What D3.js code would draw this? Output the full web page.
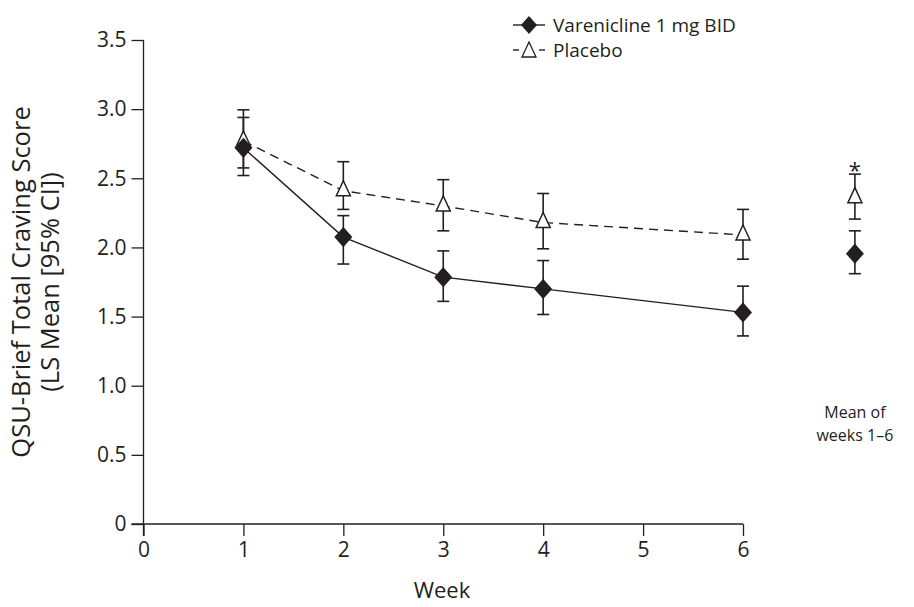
<!DOCTYPE html>
<html>
<head>
<meta charset="utf-8">
<script src="https://cdn.jsdelivr.net/npm/d3@7"></script>
<style>
  body { margin: 0; background: #fff; }
  svg text { font-family: "Open Sans", Lato, sans-serif; fill: #231f20; }
</style>
</head>
<body>
<svg id="chart" width="914" height="607"></svg>
<script>
var weeks = [1, 2, 3, 4, 5, 6];
var yTicks = [0, 0.5, 1.0, 1.5, 2.0, 2.5, 3.0, 3.5];

// weekly LS means and 95% CI (week 5 not reported)
var vareWeeks = [1, 2, 3, 4, 6];
var vareMean  = [2.72, 2.075, 1.785, 1.70, 1.53];
var vareLow   = [2.52, 1.88, 1.61, 1.515, 1.36];
var vareHigh  = [2.94, 2.23, 1.975, 1.905, 1.72];

var placWeeks = [1, 2, 3, 4, 6];
var placMean  = [2.77, 2.41, 2.30, 2.18, 2.09];
var placLow   = [2.575, 2.275, 2.12, 1.99, 1.915];
var placHigh  = [2.995, 2.62, 2.49, 2.39, 2.275];

// mean of weeks 1-6
var overall = { vare: [1.955, 1.81, 2.12], plac: [2.36, 2.205, 2.53] };
var overallPos = 7.12;

var svg = d3.select("#chart");
var x = d3.scaleLinear().domain([0, 6]).range([143.5, 743]);
var y = d3.scaleLinear().domain([0, 3.5]).range([524, 40]);

var ink = "#231f20";

// axes
var yAxis = d3.axisLeft(y).tickValues(yTicks).tickSize(12).tickPadding(5)
  .tickFormat(function(d) { return d === 0 ? "0" : d3.format(".1f")(d); });
var gy = svg.append("g").attr("transform", "translate(" + x(0) + ",0)").call(yAxis);
gy.select(".domain").attr("d", "M0," + y(3.5) + "V" + (y(0) + 12));

var xAxis = d3.axisBottom(x).tickValues([0].concat(weeks)).tickSize(12).tickPadding(6)
  .tickFormat(d3.format("d"));
var gx = svg.append("g").attr("transform", "translate(0," + y(0) + ")").call(xAxis);
gx.select(".domain").attr("d", "M" + (x(0) - 12) + ",0H" + x(6));

svg.selectAll(".domain, .tick line").attr("stroke", ink).attr("stroke-width", 1.3);
svg.selectAll(".tick text").style("font-size", "21px").attr("fill", ink);
gx.selectAll(".tick line").attr("y1", 0);

// axis titles
svg.append("text").attr("transform", "translate(30,282) rotate(-90)")
  .attr("text-anchor", "middle").style("font-size", "25.5px")
  .text("QSU-Brief Total Craving Score");
svg.append("text").attr("transform", "translate(59,282) rotate(-90)")
  .attr("text-anchor", "middle").style("font-size", "25.5px")
  .text("(LS Mean [95% CI])");
svg.append("text").attr("x", 442).attr("y", 598)
  .attr("text-anchor", "middle").style("font-size", "22px").text("Week");

var vare = vareWeeks.map(function(w, i) { return { w: w, m: vareMean[i], lo: vareLow[i], hi: vareHigh[i] }; });
var plac = placWeeks.map(function(w, i) { return { w: w, m: placMean[i], lo: placLow[i], hi: placHigh[i] }; });

var line = d3.line().x(function(d) { return x(d.w); }).y(function(d) { return y(d.m); });

svg.append("path").datum(plac).attr("d", line).attr("fill", "none")
  .attr("stroke", ink).attr("stroke-width", 1.4).attr("stroke-dasharray", "9,6");
svg.append("path").datum(vare).attr("d", line).attr("fill", "none")
  .attr("stroke", ink).attr("stroke-width", 1.4);

function errorBars(data) {
  var g = svg.append("g").attr("stroke", ink).attr("stroke-width", 1.6);
  data.forEach(function(d) {
    g.append("line").attr("x1", x(d.w)).attr("x2", x(d.w)).attr("y1", y(d.lo)).attr("y2", y(d.hi));
    g.append("line").attr("x1", x(d.w) - 6).attr("x2", x(d.w) + 6).attr("y1", y(d.lo)).attr("y2", y(d.lo));
    g.append("line").attr("x1", x(d.w) - 6).attr("x2", x(d.w) + 6).attr("y1", y(d.hi)).attr("y2", y(d.hi));
  });
}

var diamond = "M0,-9L8,0L0,9L-8,0Z";
var triangle = "M0,-10L7,5L-7,5Z";

function markers(data, shape, fill) {
  svg.append("g").selectAll("path").data(data).enter().append("path")
    .attr("d", shape)
    .attr("transform", function(d) { return "translate(" + x(d.w) + "," + y(d.m) + ")"; })
    .attr("fill", fill).attr("stroke", ink).attr("stroke-width", 1.5);
}

var vareAll = vare.concat([{ w: overallPos, m: overall.vare[0], lo: overall.vare[1], hi: overall.vare[2] }]);
var placAll = plac.concat([{ w: overallPos, m: overall.plac[0], lo: overall.plac[1], hi: overall.plac[2] }]);

errorBars(placAll);
errorBars(vareAll);
markers(placAll, triangle, "#fff");
markers(vareAll, diamond, ink);

// significance star
svg.append("text").attr("x", x(overallPos)).attr("y", y(overall.plac[2]) + 4)
  .attr("text-anchor", "middle").style("font-size", "22px").text("*");

svg.append("text").attr("x", x(overallPos)).attr("y", 418)
  .attr("text-anchor", "middle").style("font-size", "16px").text("Mean of");
svg.append("text").attr("x", x(overallPos)).attr("y", 441)
  .attr("text-anchor", "middle").style("font-size", "16px").text("weeks 1\u20136");

// legend
var leg = svg.append("g");
leg.append("line").attr("x1", 513).attr("x2", 545).attr("y1", 25).attr("y2", 25)
  .attr("stroke", ink).attr("stroke-width", 1.4);
leg.append("path").attr("d", diamond).attr("transform", "translate(529,25)").attr("fill", ink);
leg.append("text").attr("x", 553).attr("y", 32).style("font-size", "19px").text("Varenicline 1 mg BID");
leg.append("line").attr("x1", 513).attr("x2", 519).attr("y1", 50).attr("y2", 50)
  .attr("stroke", ink).attr("stroke-width", 1.4);
leg.append("line").attr("x1", 539).attr("x2", 545).attr("y1", 50).attr("y2", 50)
  .attr("stroke", ink).attr("stroke-width", 1.4);
leg.append("path").attr("d", triangle).attr("transform", "translate(529,52)")
  .attr("fill", "#fff").attr("stroke", ink).attr("stroke-width", 1.3);
leg.append("text").attr("x", 553).attr("y", 57).style("font-size", "19px").text("Placebo");
</script>
</body>
</html>
